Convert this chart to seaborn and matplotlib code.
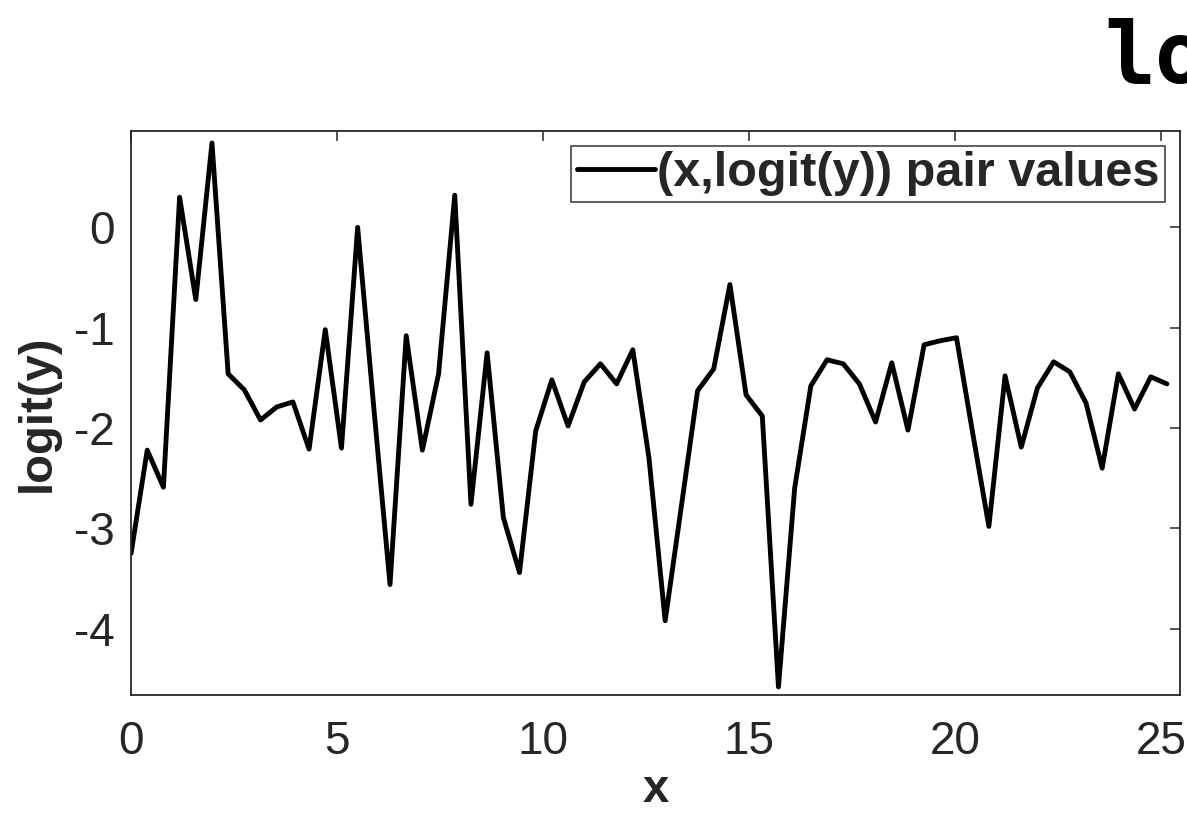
import numpy as np
import pandas as pd
import matplotlib
matplotlib.use("Agg")
import matplotlib.pyplot as plt
import seaborn as sns

# Sample index and logit values along x = k*pi/8
k_index = list(range(65))
logit_vals = [
    -3.25, -2.22, -2.59, 0.30, -0.72, 0.84, -1.46, -1.62, -1.92, -1.79,
    -1.74, -2.21, -1.02, -2.20, 0.00, -1.80, -3.56, -1.08, -2.22, -1.46,
    0.32, -2.76, -1.25, -2.89, -3.44, -2.03, -1.52, -1.98, -1.54, -1.36,
    -1.56, -1.22, -2.30, -3.92, -2.78, -1.63, -1.41, -0.57, -1.67, -1.88,
    -4.58, -2.60, -1.58, -1.32, -1.36, -1.56, -1.94, -1.35, -2.02, -1.17,
    -1.13, -1.10, -2.05, -2.98, -1.48, -2.19, -1.60, -1.34, -1.44, -1.75,
    -2.40, -1.46, -1.81, -1.49, -1.56,
]
x_vals = [k * np.pi / 8 for k in k_index]
x_ticks = [0, 5, 10, 15, 20, 25]
y_ticks = [-4, -3, -2, -1, 0]
legend_label = "(x,logit(y)) pair values"

sns.set_style("white")
plt.rcParams["font.family"] = ["Liberation Sans", "DejaVu Sans"]

df = pd.DataFrame({"x": x_vals, "logit": logit_vals})

fig = plt.figure(figsize=(11.87, 8.14), dpi=100)
ax = fig.add_axes([0.1104, 0.1462, 0.8837, 0.6929])

sns.lineplot(data=df, x="x", y="logit", ax=ax, color="black",
             linewidth=3.5, label=legend_label, sort=False)

ax.set_xlim(0, 25.45)
ax.set_ylim(-4.66, 0.96)
ax.set_xticks(x_ticks)
ax.set_yticks(y_ticks)
ax.set_xticklabels([str(t) for t in x_ticks])
ax.set_yticklabels([str(t) for t in y_ticks])

edge = "#262626"
for s in ax.spines.values():
    s.set_visible(True)
    s.set_color(edge)
    s.set_linewidth(1.3)

ax.tick_params(axis="both", which="major", direction="in", length=7,
               width=1.1, color=edge, labelcolor=edge, labelsize=33,
               top=True, right=True)
ax.tick_params(axis="x", pad=18)
ax.tick_params(axis="y", pad=12)

ax.set_xlabel("x", fontsize=34, fontweight="bold", labelpad=3)
ax.set_ylabel("logit(y)", fontsize=34, fontweight="bold", labelpad=10)

leg = ax.legend(loc="upper right", prop={"weight": "bold", "size": 35},
                frameon=True, fancybox=False, handlelength=1.6,
                handletextpad=0.05, borderpad=0.12, borderaxespad=0.3)
leg.get_frame().set_edgecolor(edge)
leg.get_frame().set_linewidth(1.3)
for h in leg.get_lines():
    h.set_linewidth(3.5)

fig.text(1104 / 1187, 1 - 83 / 814, "lo", family="DejaVu Sans Mono",
         fontweight="bold", fontsize=61, va="baseline", ha="left", color="black")

fig.savefig("out.png", dpi=100, facecolor="white")
